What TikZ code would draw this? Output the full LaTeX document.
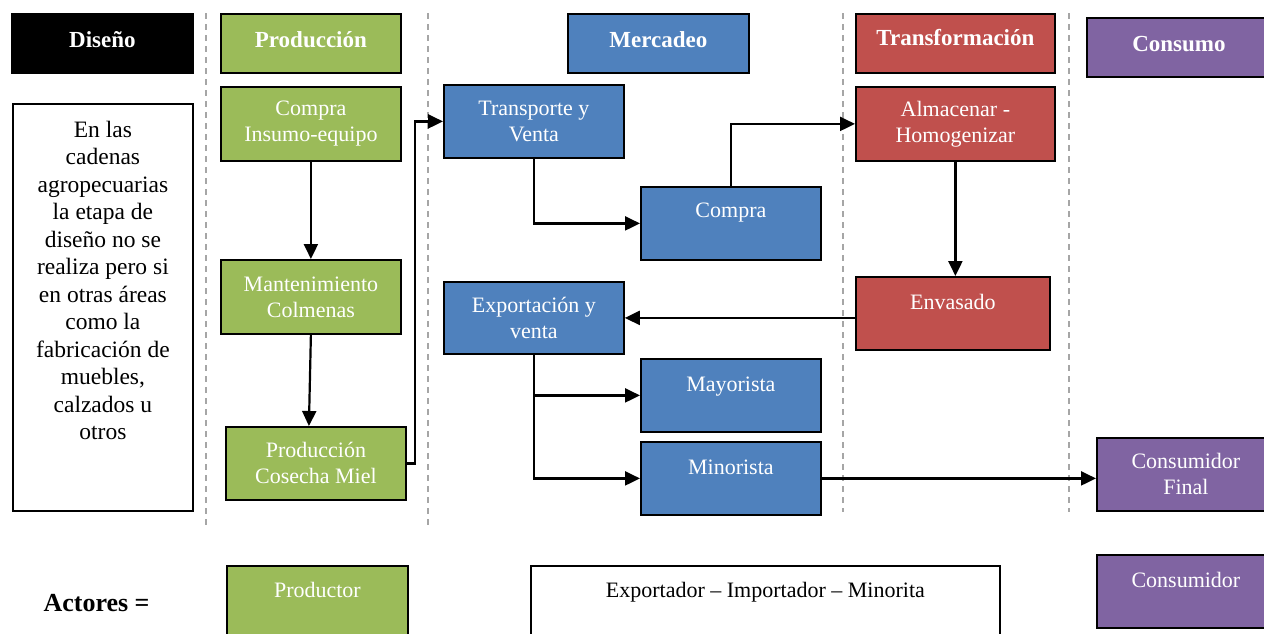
\documentclass[tikz,border=0pt]{standalone}
\usepackage{fontspec}
\setmainfont{Liberation Serif}
\usetikzlibrary{arrows.meta}
\definecolor{cgreen}{HTML}{9BBB59}
\definecolor{cblue}{HTML}{4F81BD}
\definecolor{cred}{HTML}{C0504D}
\definecolor{cpurple}{HTML}{8064A2}
\begin{document}
\begin{tikzpicture}[x=1pt,y=-1pt,
 box/.style={draw=black, line width=1.8pt, text=white, font=\fontsize{22}{26}\selectfont, align=center, inner sep=0pt, anchor=north west},
 head/.style={box, font=\fontsize{23}{27}\selectfont\bfseries},
 tb/.style={text height=#1, text depth=73pt-#1},
 hb/.style={text height=#1, text depth=59pt-#1},
 arr/.style={line width=2.2pt, -{Triangle[length=15pt,width=14pt]}},
 sep/.style={gray!70, line width=1.2pt, dash pattern=on 6pt off 5pt}]
\useasboundingbox[fill=white] (0,0) rectangle (1264,633);

% separators
\draw[sep] (206,13) -- (206,525);
\draw[sep] (428,13) -- (428,525);
\draw[sep] (843,13) -- (843,512);
\draw[sep] (1069,13) -- (1069,512);

% headers
\node[head, fill=black, minimum width=181pt, hb=34pt] (hdis) at (11,13) {Diseño};
\node[head, fill=cgreen, minimum width=180pt, hb=34pt] (hprod) at (220,13) {Producción};
\node[head, fill=cblue, minimum width=181pt, hb=34pt] (hmer) at (567,13) {Mercadeo};
\node[head, fill=cred, minimum width=199pt, hb=32pt] (htra) at (855,13) {Transformación};
\node[head, fill=cpurple, minimum width=184pt, hb=34pt] (hcon) at (1086,17) {Consumo};

% design text box
\node[box, text=black, fill=white] (dtxt) at (12,103) {\parbox[c][407pt][t]{180pt}{\centering\fontsize{23.5}{27.5}\selectfont\vspace*{17pt}En las\\cadenas\\agropecuarias\\la etapa de\\diseño no se\\realiza pero si\\en otras áreas\\como la\\fabricación de\\muebles,\\calzados u\\otros}};

% production
\node[box, fill=cgreen, minimum width=180pt, minimum height=74pt] (ci) at (220,86) {Compra\\Insumo-equipo};
\node[box, fill=cgreen, minimum width=180pt, minimum height=74pt] (mc) at (220,259) {Mantenimiento\\Colmenas};
\node[box, fill=cgreen, minimum width=180pt, minimum height=73pt] (pc) at (225,426) {Producción\\Cosecha Miel};

% marketing
\node[box, fill=cblue, minimum width=180pt, minimum height=73pt] (tv) at (443,84) {Transporte y\\Venta};
\node[box, fill=cblue, minimum width=180pt, tb=31pt] (co) at (640,186) {Compra};
\node[box, fill=cblue, minimum width=180pt, minimum height=72pt] (ev) at (443,281) {Exportación y\\venta};
\node[box, fill=cblue, minimum width=180pt, tb=33pt] (ma) at (640,358) {Mayorista};
\node[box, fill=cblue, minimum width=180pt, tb=33pt] (mi) at (640,441) {Minorista};

% transformation
\node[box, fill=cred, minimum width=199pt, minimum height=74pt] (ah) at (855,86) {Almacenar -\\Homogenizar};
\node[box, fill=cred, minimum width=194pt, tb=33pt] (en) at (855,276) {Envasado};

% consumption
\node[box, fill=cpurple, minimum width=178pt, minimum height=73pt] (cf) at (1096,437) {Consumidor\\Final};
\node[box, fill=cpurple, minimum width=178pt, tb=33pt] (cs) at (1096,554) {Consumidor};

% actors row
\node[font=\fontsize{26}{30}\selectfont\bfseries, anchor=west] (act) at (40,603) {Actores =};
\node[box, fill=cgreen, minimum width=181pt, text height=32pt, text depth=50pt] (pr) at (226,565) {Productor};
\node[box, fill=white, text=black, minimum width=469pt, text height=32pt, text depth=50pt] (ex) at (530,565) {Exportador – Importador – Minorita};

% connectors
\draw[arr] (ci.south) -- (mc.north);
\draw[arr] (mc.south) -- ([xshift=-7pt]pc.north);
\draw[arr] (pc.east) -- ++(8,0) |- (tv.west);
\draw[arr] (tv.south) |- (co.west);
\draw[arr] (co.north) |- (ah.west);
\draw[arr] (ah.south) -- (ah.south |- en.north);
\draw[arr] (en.west |- ev.east) -- (ev.east);
\draw[arr] (ev.south) |- (ma.west);
\draw[arr] (ev.south) |- (mi.west);
\draw[arr] (mi.east) -- (mi.east -| cf.west);
\end{tikzpicture}
\end{document}
